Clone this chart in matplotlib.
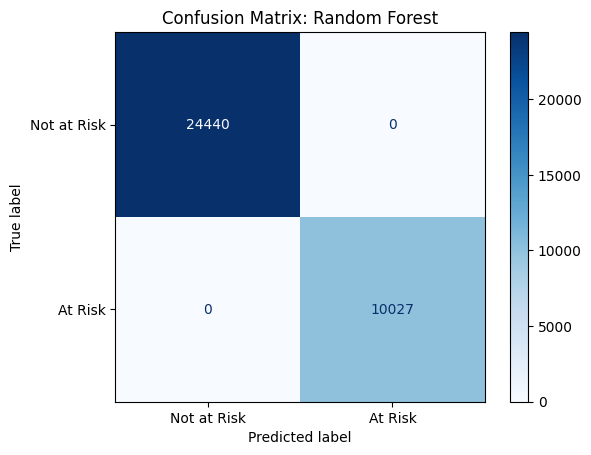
import matplotlib
matplotlib.use("Agg")
import matplotlib.pyplot as plt
import numpy as np

labels = ["Not at Risk", "At Risk"]
row0 = [24440, 0]
row1 = [0, 10027]
cm = np.array([row0, row1])

fig, ax = plt.subplots(figsize=(6.4, 4.8), dpi=100)
cmap = plt.cm.Blues
im = ax.imshow(cm, interpolation="nearest", cmap=cmap)
thresh = (cm.max() + cm.min()) / 2.0
for i in range(cm.shape[0]):
    for j in range(cm.shape[1]):
        color = cmap(0) if cm[i, j] >= thresh else cmap(1.0)
        ax.text(j, i, format(cm[i, j], "d"), ha="center", va="center", color=color)
fig.colorbar(im, ax=ax)
ax.set(xticks=np.arange(2), yticks=np.arange(2), xticklabels=labels, yticklabels=labels,
       xlabel="Predicted label", ylabel="True label")
ax.set_ylim((1.5, -0.5))
ax.set_title("Confusion Matrix: Random Forest")
fig.savefig("out.png", bbox_inches="tight")
